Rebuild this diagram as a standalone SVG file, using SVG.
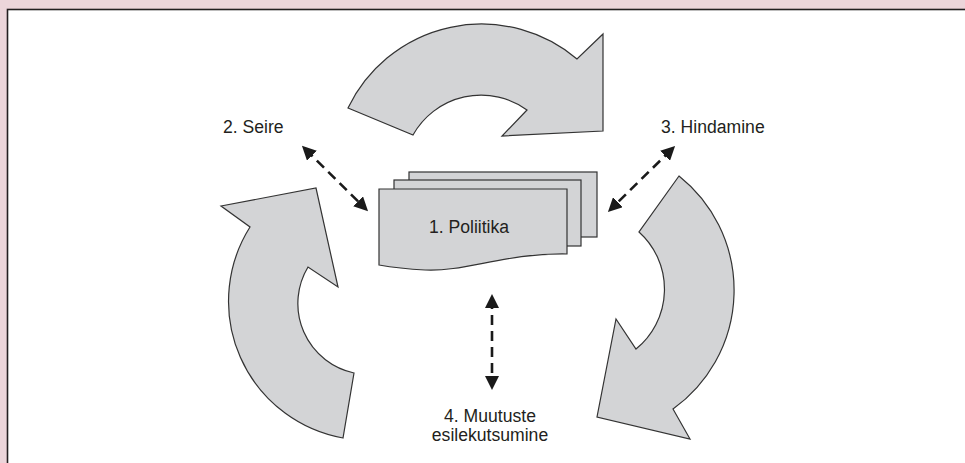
<svg xmlns="http://www.w3.org/2000/svg" width="965" height="463" viewBox="0 0 965 463">
  <defs>
    <style>
      .shape { fill: #d3d4d6; stroke: #333333; stroke-width: 1.2; stroke-linejoin: miter; }
      .lbl { font-family: "Liberation Sans", Arial, sans-serif; font-size: 17.6px; fill: #231f20; }
      .dash { fill: none; stroke: #1a1a1a; stroke-width: 2.6; stroke-dasharray: 10 6; marker-start: url(#ah); marker-end: url(#ah); }
    </style>
    <marker id="ah" viewBox="0 0 14 14" refX="9" refY="7" markerWidth="14" markerHeight="14" markerUnits="userSpaceOnUse" orient="auto-start-reverse">
      <path d="M0,0 L14,7 L0,14 Z" fill="#1a1a1a"/>
    </marker>
  </defs>
  <rect x="0" y="0" width="965" height="463" fill="#ecd5da"/>
  <rect x="7.5" y="9.5" width="960" height="460" fill="#ffffff" stroke="#231f20" stroke-width="1.6"/>

  <g id="arrow-top">
    <path class="shape" d="M348,108 A148,148 0 0 1 577,59 L603,34 L603,131 L502,136 L527,110 A78,78 0 0 0 413,135 Z"/>
  </g>
  <g id="arrow-right">
    <path class="shape" d="M679,176 A146,146 0 0 1 673,409 L690,439 L597,417 L616,319 L636,349 A77,77 0 0 0 639,232 Z"/>
  </g>
  <g id="arrow-left">
    <path class="shape" d="M221,206 L316,188 L338,287 L308,267 A71,71 0 0 0 354,373 L343,438 A139,139 0 0 1 250,227 Z"/>
  </g>

  <g id="node-poliitika">
    <rect class="shape" x="409" y="172" width="188" height="65"/>
    <rect class="shape" x="394" y="180" width="187" height="66"/>
    <path class="shape" d="M379,189 L567,189 L567,254 C505,253 465,272 425,270 C405,269 390,267 379,265 Z"/>
    <text class="lbl" x="469" y="233" text-anchor="middle">1. Poliitika</text>
  </g>

  <g id="node-seire">
    <text class="lbl" x="223" y="133">2. Seire</text>
  </g>
  <g id="node-hindamine">
    <text class="lbl" x="661" y="133">3. Hindamine</text>
  </g>
  <g id="node-muutuste">
    <text class="lbl" x="490" y="422" text-anchor="middle">4. Muutuste</text>
    <text class="lbl" x="490" y="441" text-anchor="middle">esilekutsumine</text>
  </g>

  <g id="connectors">
    <path class="dash" d="M305.5,149.3 L364.5,207.7"/>
    <path class="dash" d="M671.5,149.5 L611.5,208.5"/>
    <path class="dash" d="M492,299 L492,385"/>
  </g>
</svg>
